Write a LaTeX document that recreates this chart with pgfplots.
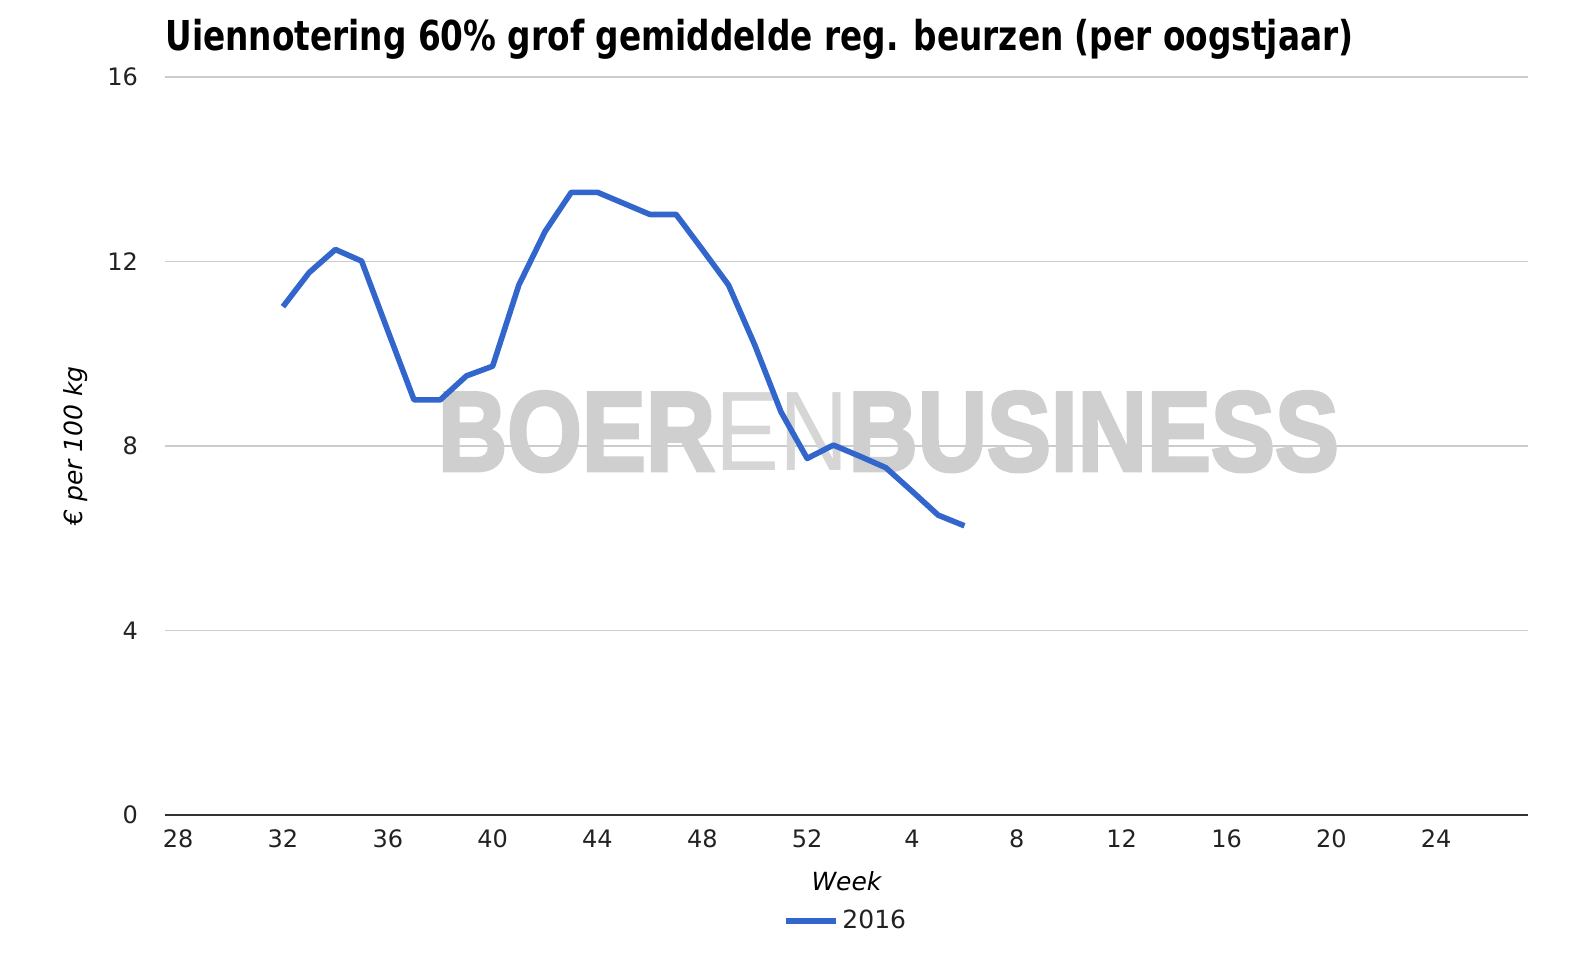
\documentclass[border=0pt]{standalone}
\usepackage{pgfplots}
\pgfplotsset{compat=1.18}
\usepackage{fontspec}
\setmainfont{DejaVu Sans}
\newfontfamily\wmfont[BoldFeatures={FakeBold=3}]{Liberation Sans}
\usepackage{graphicx}
\definecolor{lineblue}{HTML}{3366CC}
\definecolor{gridgray}{HTML}{CCCCCC}
\definecolor{basegray}{HTML}{333333}
\definecolor{txtgray}{HTML}{222222}
\definecolor{wmgray}{HTML}{CFCFCF}
\definecolor{wmlight}{HTML}{D6D6D6}
\begin{document}
\begin{tikzpicture}
\fill[white] (0,0) rectangle (796pt,480pt);
\begin{axis}[
  at={(82.5pt,72.5pt)}, anchor=south west,
  scale only axis, width=681.5pt, height=369pt,
  xmin=27.5, xmax=79.5, ymin=0, ymax=16,
  xtick={28,32,...,76},
  xticklabels={28,32,36,40,44,48,52,4,8,12,16,20,24},
  ytick={0,4,8,12,16},
  axis x line=bottom, axis y line=left,
  axis line style={draw=none},
  major tick length=0pt,
  ymajorgrids, grid style={gridgray, line width=0.9pt},
  /pgf/number format/assume math mode=true,
  tick label style={font=\fontsize{12}{14}\selectfont, text=txtgray},
  xticklabel style={yshift=-4pt},
  yticklabel style={xshift=-10pt},
  xlabel={\itshape Week},
  ylabel={\itshape € per 100 kg},
  label style={font=\fontsize{12.5}{15}\selectfont, text=black},
  x label style={at={(axis description cs:0.5,0)}, anchor=center, yshift=-33pt},
  y label style={at={([xshift=-44.5pt]axis description cs:0,0.5)}, anchor=center},
  legend style={at={(axis description cs:0.5,0)}, anchor=center, yshift=-53pt, draw=none, fill=none, font=\fontsize{12.5}{15}\selectfont, text=txtgray},
  legend image code/.code={\draw[#1] (0pt,0pt) -- (25pt,0pt);},
  clip=false,
]
\node[inner sep=0pt, anchor=center] at (axis cs:55.1,8.31) {\resizebox{450.5pt}{\height}{\wmfont\fontsize{56.6}{60}\selectfont\bfseries\color{wmgray}BOER{\mdseries\color{wmlight}EN}BUSINESS}};
\draw[basegray, line width=1pt] (axis cs:27.5,0) -- (axis cs:79.5,0);
\addplot[lineblue, line width=2.8pt, line join=round] coordinates {
(32,11.02) (33,11.76) (34,12.26) (35,12.01) (36,10.5) (37,9.0) (38,9.0) (39,9.52) (40,9.73)
(41,11.49) (42,12.65) (43,13.5) (44,13.5) (45,13.26) (46,13.02) (47,13.02) (48,12.26) (49,11.49)
(50,10.19) (51,8.74) (52,7.73) (53,8.02) (54,7.78) (55,7.53) (56,7.02) (57,6.50) (58,6.27)
};
\addlegendentry{2016}
\end{axis}
\node[anchor=base west, inner sep=0pt] at (82.5pt,454.5pt) {\resizebox{594pt}{\height}{\fontsize{20.6}{24}\selectfont\bfseries Uiennotering 60\% grof gemiddelde reg. beurzen (per oogstjaar)}};
\pgfresetboundingbox
\useasboundingbox (0,0) rectangle (796pt,480pt);
\end{tikzpicture}
\end{document}
